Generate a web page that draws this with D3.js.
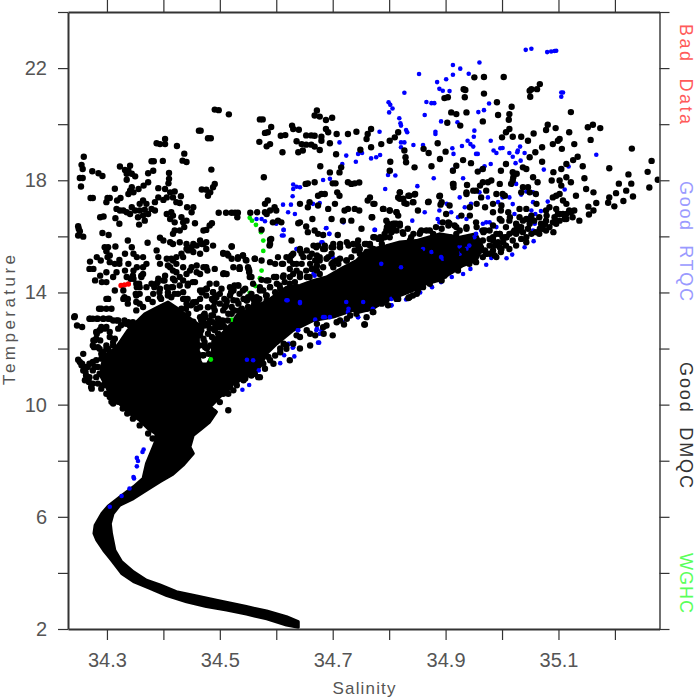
<!DOCTYPE html>
<html><head><meta charset="utf-8">
<script src="https://cdnjs.cloudflare.com/ajax/libs/d3/7.8.5/d3.min.js"></script>
<style>html,body{margin:0;padding:0;background:#fff}svg{display:block}text{font-family:"Liberation Sans",sans-serif}</style>
</head><body><div id="chart"></div>
<script>
const salinityTicks=[34.3,34.4,34.5,34.6,34.7,34.8,34.9,35.0,35.1,35.2];
const salinityTickLabels=["34.3","","34.5","","34.7","","34.9","","35.1",""];
const temperatureTicks=[2,4,6,8,10,12,14,16,18,20,22,24];
const temperatureTickLabels=["2","","6","","10","","14","","18","","22",""];
const legendLabels=["Bad  Data","Good  RTQC","Good  DMQC","WGHC"];
const legendColors=["#ff5a5a","#9a9aff","#333333","#5aff5a"];

// solid part of the cloud, where single floats can no longer be told apart
const denseCoreOutline=[[34.639,2.26],[34.618,2.44],[34.583,2.64],[34.547,2.80],[34.494,3.03],[34.459,3.18],[34.423,3.33],[34.394,3.57],[34.370,3.74],[34.347,4.04],[34.326,4.40],[34.314,4.81],[34.308,5.41],[34.306,5.76],[34.311,6.12],[34.323,6.42],[34.347,6.65],[34.370,6.95],[34.394,7.25],[34.417,7.52],[34.435,7.84],[34.453,8.26],[34.447,8.49],[34.453,8.91],[34.468,9.15],[34.482,9.38],[34.494,9.74],[34.483,9.92],[34.500,10.27],[34.524,10.75],[34.548,10.99],[34.571,11.34],[34.583,11.82],[34.601,12.17],[34.630,12.65],[34.666,13.0],[34.701,13.12],[34.736,13.36],[34.748,13.30],[34.771,13.42],[34.795,13.72],[34.819,13.89],[34.842,14.07],[34.866,14.31],[34.889,14.43],[34.907,14.66],[34.931,14.96],[34.954,15.14],[34.966,15.61],[34.954,16.09],[34.925,15.97],[34.889,16.09],[34.848,15.85],[34.819,15.8],[34.795,15.67],[34.760,15.50],[34.742,15.14],[34.719,14.90],[34.689,14.55],[34.666,14.43],[34.642,14.25],[34.618,14.19],[34.585,13.71],[34.561,13.48],[34.532,13.24],[34.520,12.88],[34.500,12.45],[34.488,12.35],[34.486,11.75],[34.478,11.45],[34.466,11.45],[34.462,11.9],[34.462,12.5],[34.470,12.75],[34.452,13.0],[34.440,13.2],[34.426,13.42],[34.408,13.66],[34.390,13.48],[34.367,13.24],[34.352,12.94],[34.337,12.65],[34.325,12.29],[34.314,11.99],[34.296,11.76],[34.290,11.34],[34.290,10.98],[34.302,10.51],[34.311,10.21],[34.325,9.98],[34.340,9.68],[34.358,9.44],[34.373,9.14],[34.386,8.97],[34.388,8.79],[34.382,8.49],[34.370,7.90],[34.364,7.37],[34.347,7.07],[34.323,6.71],[34.302,6.38],[34.291,6.12],[34.279,5.70],[34.277,5.41],[34.282,5.17],[34.294,4.81],[34.308,4.46],[34.326,3.98],[34.347,3.69],[34.376,3.45],[34.406,3.19],[34.441,2.97],[34.476,2.80],[34.512,2.68],[34.547,2.53],[34.583,2.36],[34.618,2.14],[34.639,2.06]];

const goodDmqc=[[34.491,20.52],[34.498,20.50],[34.516,20.35],[34.571,20.17],[34.576,20.17],[34.672,20.49],[34.668,20.31],[34.677,20.27],[34.688,20.15],[34.699,20.23],[34.591,19.90],[34.585,19.71],[34.580,19.69],[34.628,19.95],[34.630,19.83],[34.640,19.80],[34.616,19.61],[34.608,19.59],[34.653,19.60],[34.662,19.60],[34.668,19.59],[34.680,19.55],[34.688,19.83],[34.692,19.71],[34.707,19.65],[34.727,19.65],[34.68,19.41],[34.57,19.37],[34.583,19.21],[34.589,19.29],[34.636,19.39],[34.645,19.29],[34.653,19.27],[34.662,19.27],[34.668,19.20],[34.677,19.08],[34.639,19.0],[34.647,19.06],[34.611,19.0],[34.695,19.32],[34.706,18.93],[34.463,19.77],[34.466,19.77],[34.479,19.50],[34.484,19.50],[34.388,19.32],[34.394,19.29],[34.403,19.47],[34.403,19.29],[34.424,19.22],[34.437,18.95],[34.434,18.70],[34.441,18.65],[34.379,18.68],[34.383,18.68],[34.399,18.69],[34.259,18.84],[34.255,18.55],[34.257,18.40],[34.252,18.08],[34.257,18.08],[34.254,17.78],[34.274,18.32],[34.285,18.25],[34.292,18.15],[34.323,18.49],[34.332,18.37],[34.341,18.52],[34.338,18.34],[34.344,18.23],[34.350,18.14],[34.335,18.23],[34.335,18.02],[34.373,18.25],[34.382,18.34],[34.410,18.26],[34.410,18.05],[34.409,17.89],[34.485,18.38],[34.578,18.11],[34.491,17.87],[34.488,17.75],[34.468,17.67],[34.476,17.66],[34.483,17.57],[34.479,17.45],[34.678,18.50],[34.695,18.28],[34.712,18.28],[34.715,18.46],[34.656,17.89],[34.652,17.87],[34.668,17.93],[34.70,17.89],[34.705,17.89],[34.727,17.93],[34.708,17.57],[34.712,17.45],[34.674,17.45],[34.680,17.51],[34.686,17.51],
[34.314,17.70],[34.271,17.37],[34.275,17.37],[34.301,17.37],[34.305,17.37],[34.299,17.22],[34.318,17.28],[34.324,17.37],[34.344,17.75],[34.341,17.63],[34.338,17.51],[34.347,17.57],[34.356,17.69],[34.365,17.81],[34.373,17.93],[34.391,17.72],[34.403,17.69],[34.412,17.57],[34.420,17.60],[34.431,17.43],[34.417,17.39],[34.406,17.39],[34.400,17.30],[34.391,17.39],[34.385,17.22],[34.429,17.19],[34.423,17.22],[34.442,17.04],[34.453,17.04],[34.450,16.86],[34.364,17.28],[34.358,17.16],[34.370,17.16],[34.379,16.98],[34.385,16.92],[34.323,16.92],[34.329,16.92],[34.335,16.86],[34.341,16.80],[34.350,16.92],[34.358,16.92],[34.367,16.95],[34.373,16.80],[34.364,16.74],[34.367,16.56],[34.355,16.68],[34.357,16.42],[34.344,17.04],[34.317,16.98],[34.288,16.68],[34.294,16.71],[34.315,16.65],[34.322,16.45],[34.249,16.36],[34.250,16.27],[34.252,16.18],[34.249,16.03],[34.258,15.99],[34.292,16.12],[34.303,16.05],[34.406,16.80],[34.414,16.86],[34.417,16.74],[34.412,16.62],[34.420,16.21],[34.420,16.50],[34.432,16.68],[34.435,16.50],[34.441,16.56],[34.437,16.33],[34.429,16.21],[34.417,16.09],[34.456,16.47],[34.471,16.21],[34.476,16.23],[34.482,16.39],[34.486,16.47],[34.498,16.84],[34.511,16.84],[34.521,16.84],[34.527,16.84],[34.532,16.84],[34.531,16.68],[34.554,16.84],[34.566,16.86],[34.580,16.86],[34.589,16.92],[34.597,17.04],[34.580,17.16],[34.585,17.28],[34.600,16.92],[34.583,16.80],[34.594,16.50],[34.609,16.50],[34.603,16.56],[34.574,16.24],[34.642,17.16],[34.656,17.04],[34.659,17.22],[34.674,17.10],[34.692,16.98],[34.704,17.16],[34.721,16.92],[34.727,16.98],[34.718,16.56],[34.698,16.62],[34.642,16.50],[34.639,16.47],[34.664,16.62],[34.653,16.35],[34.668,16.21],[34.656,16.15],[34.674,16.09],[34.683,16.05],[34.709,16.05],[34.627,15.85],[34.589,15.88],[34.588,15.67],
[34.394,15.95],[34.400,15.85],[34.412,15.79],[34.417,15.73],[34.429,15.79],[34.441,15.73],[34.453,15.73],[34.465,15.85],[34.471,15.73],[34.476,15.79],[34.488,15.67],[34.337,15.85],[34.344,15.61],[34.347,15.38],[34.332,15.38],[34.372,15.77],[34.296,15.61],[34.302,15.61],[34.315,15.64],[34.299,15.47],[34.305,15.32],[34.301,15.26],[34.289,15.14],[34.270,15.10],[34.269,14.84],[34.322,15.16],[34.322,15.02],[34.332,14.78],[34.347,14.78],[34.317,14.72],[34.388,15.50],[34.391,15.26],[34.394,15.02],[34.406,15.20],[34.414,15.20],[34.423,15.02],[34.435,15.26],[34.444,15.50],[34.453,15.44],[34.465,15.38],[34.476,15.55],[34.412,14.90],[34.423,14.72],[34.435,14.90],[34.447,14.78],[34.459,14.72],[34.476,14.90],[34.491,14.84],[34.506,14.66],[34.506,15.38],[34.515,15.32],[34.521,15.64],[34.532,15.20],[34.541,15.32],[34.547,15.14],[34.535,14.84],[34.550,14.90],[34.552,14.78],[34.562,15.20],[34.574,15.14],[34.603,15.26],[34.612,15.02],[34.624,15.26],[34.630,15.02],[34.645,15.38],[34.645,15.02],[34.659,15.26],[34.671,15.61],[34.686,15.55],[34.701,15.61],[34.600,14.55],[34.524,14.07],[34.532,14.25],[34.541,14.07],[34.500,13.95],[34.518,13.89],[34.279,14.43],[34.288,14.60],[34.299,14.72],[34.291,14.37],[34.299,14.37],[34.314,14.07],[34.329,14.07],[34.329,13.77],[34.299,13.77],[34.302,13.77],[34.299,13.42],[34.286,13.42],[34.342,14.49],[34.353,14.19],[34.364,14.90],[34.361,14.55],[34.357,14.31],[34.351,13.95],[34.243,13.15],[34.247,12.82],[34.256,12.77],[34.270,13.06],[34.282,13.06],[34.294,13.06],[34.305,13.06],[34.317,13.0],[34.338,12.94],[34.288,12.65],[34.299,12.77],[34.282,12.53],[34.276,12.29],[34.288,12.29],[34.299,12.11],[34.388,14.31],[34.400,14.43],[34.417,14.49],[34.429,14.25],[34.444,14.31],[34.456,14.37],[34.465,14.07],[34.476,14.13],[34.482,14.31],[34.488,14.01],[34.435,13.77],[34.453,13.65],[34.465,13.47],[34.479,13.47],[34.491,13.36],[34.497,13.06],[34.488,12.94],[34.473,12.82],[34.459,12.77],[34.465,13.12],
[34.932,21.25],[34.935,21.22],[34.968,21.09],[34.934,20.96],[34.898,20.93],[34.904,20.96],[34.951,21.67],[34.968,21.68],[35.003,21.68],[35.067,21.43],[35.062,21.25],[35.049,21.19],[35.052,21.25],[35.050,20.98],[34.991,20.78],[35.017,20.62],[35.013,20.36],[35.012,20.16],[34.993,20.33],[35.122,20.43],[34.910,20.42],[34.919,20.36],[34.937,20.42],[34.966,20.10],[34.903,20.05],[34.926,19.95],[34.742,19.73],[34.768,19.83],[34.762,19.65],[34.760,19.47],[34.816,19.71],[34.810,19.53],[34.801,19.41],[34.786,19.29],[34.768,19.18],[34.749,19.09],[34.827,19.06],[34.829,18.82],[34.830,18.64],[34.845,18.46],[34.802,18.66],[34.801,18.34],[34.875,18.50],[34.890,18.76],[34.900,19.02],[34.861,19.12],[34.870,18.97],[34.886,19.32],[34.931,18.72],[34.945,18.61],[34.919,18.52],[34.913,18.34],[34.957,18.31],[34.966,18.40],[35.013,19.83],[35.007,19.71],[35.000,19.53],[35.019,19.55],[35.034,19.55],[35.046,19.41],[35.056,19.67],[35.081,19.98],[35.095,19.86],[35.078,19.79],[35.119,19.71],[35.152,19.89],[35.161,19.98],[35.174,19.86],[35.157,19.44],[35.230,19.13],[35.102,19.47],[35.099,19.41],[35.090,19.29],[35.106,19.12],[35.128,19.29],[35.071,19.18],[35.059,19.0],[35.049,18.82],[35.071,18.66],[35.037,18.46],[35.019,18.29],[35.007,18.58],[34.998,18.34],[35.134,18.84],[35.126,18.72],[35.114,18.58],[35.105,18.40],[35.091,18.29],[35.143,18.50],[35.146,18.07],[35.149,17.69],[35.162,17.57],[35.167,17.19],[35.153,17.06],[35.162,16.92],[35.154,16.78],[35.137,16.56],[35.190,18.43],[35.224,18.21],[35.207,17.88],[35.229,17.88],[35.220,17.63],[35.202,17.54],[35.232,17.42],[35.215,17.26],[35.190,17.39],[35.188,17.20],[35.199,17.07],[35.265,18.69],[35.258,18.30],[35.261,17.74],[35.276,18.02],[35.043,18.40],[35.063,17.93],[35.019,17.99],[35.037,17.75],[35.102,17.99],[35.122,17.93],[35.131,17.45],[35.102,17.51],[35.090,17.39],[35.108,17.28],[35.114,17.16],[35.084,17.04],[35.096,16.98],[34.913,17.87],[34.938,17.83],[34.954,17.63],[34.966,17.93],[34.981,17.99],[34.996,17.87],[34.937,17.51],[34.963,17.39],[34.984,17.16],[35.001,17.51],[35.016,17.87],[35.034,17.57],[35.060,17.51],[35.031,16.98],[34.998,16.92],[34.819,17.57],[34.819,17.34],[34.836,17.45],[34.845,17.49],[34.827,17.19],[34.842,17.22],[34.870,17.24],[34.889,17.43],[34.851,16.92],[34.891,17.13],[34.907,17.10],[34.789,16.98],[34.801,16.92],[34.813,16.86],[34.774,17.16],[34.762,17.28],[34.739,16.98],[34.747,16.92],[34.770,16.68],[34.733,16.56],[34.751,16.27],[34.795,16.56],[34.739,17.89],[34.747,17.92],[34.733,17.87],
[34.242,13.12],[34.258,11.81],[34.249,11.60],[34.256,11.46],[34.258,11.22],[34.263,11.04],[34.261,10.87],[34.268,10.81],[34.272,10.63],[34.281,10.98],[34.302,10.39],[34.311,10.04],[34.328,10.04],[34.340,9.80],[34.308,10.69],[34.293,10.69],[34.266,11.34],[34.275,11.52],[34.284,11.34],[34.275,12.11],[34.281,12.35],[34.287,12.65],[34.296,12.71],[34.305,12.41],[34.311,12.23],[34.299,11.99],[34.284,12.05],[34.290,11.81],[34.305,11.87],[34.269,13.06],[34.284,13.06],[34.302,13.06],[34.320,13.0],[34.346,12.94],[34.334,12.88],[34.302,13.77],[34.290,13.42],[34.308,13.42],[34.331,13.83],[34.337,13.60],[34.352,13.66],[34.358,13.95],[34.352,14.31],[34.346,14.60],[34.361,14.60],[34.358,14.19],[34.396,13.77],[34.414,13.83],[34.438,13.77],[34.452,13.60],[34.440,13.42],[34.467,13.0],[34.479,12.88],[34.467,12.65],[34.464,12.11],[34.473,12.11],[34.461,11.82],[34.458,11.46],[34.470,11.76],[34.491,12.65],[34.494,12.88],[34.505,13.0],[34.485,13.18],[34.473,13.18],[34.515,9.80],
[34.571,10.98],[34.554,11.22],[34.595,11.46],[34.624,11.58],[34.642,12.0],[34.660,12.11],[34.700,12.47],[34.684,12.53],[34.669,12.47],[34.720,12.86],[34.756,12.86],[34.772,13.30],[34.613,12.17],[34.571,11.52],[34.554,11.40],[34.533,10.99],[34.524,10.51],[34.512,10.51],[34.500,10.09],[34.489,9.74],[34.477,9.56],
[35.122,16.86],[35.125,16.68],[35.114,16.62],[35.102,16.56],[35.093,16.68],[35.096,16.45],[35.084,16.33],[35.072,16.27],[35.060,16.15],[35.052,16.09],[35.043,15.97],[35.037,16.15],[35.031,16.33],[35.025,16.09],[35.019,15.85],[35.007,15.67],[34.996,15.61],[34.984,15.50],[34.972,15.38],[34.963,15.50],[34.948,15.26],[34.937,15.20],[34.925,15.08],[34.913,14.84],[34.901,14.72],[34.889,14.66],[34.878,14.55],[34.836,13.83],[34.816,13.77],[34.789,13.66],[34.771,13.30],[34.757,12.86],[34.996,16.62],[35.013,16.56],[35.007,16.33],[34.990,16.09],[34.978,16.21],[34.966,16.21],[34.954,16.50],[34.937,16.33],[34.919,16.33],[34.907,16.45],[34.895,16.50],[34.883,16.33],[34.872,16.21],[34.854,16.09],[34.839,15.97],[34.833,16.27],[34.819,16.45],[34.810,16.45],[34.798,16.45],[34.795,16.21],[34.807,16.21],[34.824,16.15],[34.786,15.91],[34.774,15.97],[34.760,15.73],[34.745,15.85],[34.745,15.67],[35.031,16.68],[35.043,16.62],[35.052,16.74],[35.066,16.68],[35.078,16.92],[35.108,16.80],[35.119,16.92],[35.128,16.92],[34.901,16.80],[34.857,16.21],[34.907,15.85],[34.919,16.09],[34.901,15.50],[34.919,15.38],[34.931,15.50],[34.966,15.85],[34.984,15.97],[34.996,16.09],[35.007,15.97],[35.025,16.45]];

// second reading of the merged chains around the core
const goodDmqcChains=[[34.252,11.52],[34.261,11.34],[34.255,11.40],[34.262,11.16],[34.269,10.98],[34.275,10.75],[34.273,10.57],[34.284,10.75],[34.290,10.57],[34.299,10.39],[34.305,10.27],[34.308,10.10],[34.320,10.10],[34.328,9.86],[34.336,9.68],[34.346,9.50],[34.358,9.26],[34.373,8.97],[34.381,8.79],[34.269,11.46],[34.278,11.34],[34.287,11.10],[34.275,11.22],[34.281,11.58],[34.290,11.64],[34.278,12.29],[34.277,12.05],[34.287,11.99],[34.293,11.87],[34.302,11.99],[34.311,12.11],[34.314,12.35],[34.305,12.59],[34.290,12.77],[34.281,12.59],[34.320,12.71],[34.325,12.83],[34.340,12.83],[34.331,13.0],[34.311,13.0],[34.275,13.06],[34.293,13.06],[34.337,13.77],[34.352,13.89],[34.358,13.60],[34.352,13.36],[34.364,13.48],[34.373,13.77],[34.381,13.66],[34.384,14.19],[34.390,14.37],[34.402,14.43],[34.420,14.43],[34.414,14.19],[34.435,14.43],[34.393,14.01],[34.408,14.01],[34.426,13.95],[34.435,14.01],[34.443,13.77],[34.458,13.66],[34.449,13.54],[34.452,14.37],[34.443,14.25],[34.470,14.07],[34.488,14.01],[34.494,13.83],[34.508,13.77],[34.511,13.54],[34.491,13.66],[34.488,13.18],[34.473,13.24],[34.467,12.83],[34.482,12.71],[34.464,12.47],[34.473,12.23],[34.491,12.23],[34.497,12.53],[34.508,12.77],[34.514,13.0],[34.526,13.36],[34.520,14.01],[34.526,14.25],[34.550,13.83],[34.561,13.60],[34.582,13.89],[34.570,13.77],[34.464,11.46],[34.476,11.34],[34.467,11.22],[34.494,11.82],[34.499,12.05],
[34.524,13.36],[34.533,13.60],[34.539,13.42],[34.548,13.71],[34.559,13.77],[34.568,13.71],[34.583,13.89],[34.598,14.01],[34.607,14.13],[34.592,13.71],[34.615,14.37],[34.624,14.55],[34.633,14.37],[34.642,14.67],[34.654,14.55],[34.663,14.84],[34.672,14.96],[34.677,15.14],[34.689,15.20],[34.701,15.08],[34.713,15.20],[34.698,15.38],[34.683,15.55],[34.698,15.61],[34.713,15.61],[34.728,15.67],[34.739,15.50],[34.748,15.38],[34.766,15.67],[34.781,15.91],[34.792,16.09],[34.807,16.33],[34.813,16.45],[34.760,15.44],[34.772,15.55],[34.787,15.73],[34.642,15.50],[34.627,15.32],[34.618,15.26],[34.672,15.32],[34.663,15.38],[34.648,15.26],[34.636,15.02],[34.624,14.84],[34.610,15.02],[34.598,15.02],[34.589,15.08],[34.596,14.55],[34.574,14.45],[34.559,14.31],[34.556,14.55],[34.545,14.13],[34.533,14.25],[34.524,14.13],[34.518,14.19],[34.551,14.84],[34.552,14.72],[34.535,14.84],[34.507,14.69],[34.478,14.78],[34.541,15.32],[34.532,15.26],[34.521,15.20],[34.513,15.38],[34.506,15.41],[34.521,15.64],[34.589,15.73],[34.591,15.91],[34.562,15.20],[34.546,15.16],[34.477,14.13],[34.468,14.0],[34.492,13.89],[34.486,13.77],[34.512,13.71],[34.509,13.48],[34.489,13.48],[34.474,13.12],[34.471,12.94],[34.480,12.88],[34.492,12.76],[34.500,12.76],[34.506,12.82],[34.474,12.05],[34.477,12.0],[34.471,11.76],[34.731,13.18],[34.713,13.0],[34.683,12.76],[34.660,12.53],[34.642,12.41],[34.630,12.17],[34.618,11.99],[34.607,11.87],[34.598,11.75],[34.586,11.70],[34.577,11.46],[34.562,11.10],[34.545,10.93],[34.530,10.69],[34.515,10.39],[34.760,13.12],[34.787,13.60],[34.798,13.54],[34.813,13.77],
[34.807,16.45],[34.819,16.39],[34.796,16.33],[34.804,16.15],[34.801,15.97],[34.825,16.09],[34.843,16.09],[34.855,16.15],[34.866,16.21],[34.878,16.09],[34.893,16.27],[34.905,16.39],[34.916,16.39],[34.925,16.21],[34.937,16.27],[34.955,16.33],[34.970,16.21],[34.984,16.39],[34.999,16.56],[35.014,16.68],[35.026,16.39],[35.037,16.56],[35.052,16.62],[34.837,15.85],[34.855,15.79],[34.872,15.79],[34.890,15.97],[34.908,15.97],[34.925,15.79],[34.943,15.91],[34.967,16.15],[34.978,15.91],[34.996,16.09],[35.008,15.97],[35.020,16.15],[35.032,16.21],[35.046,16.27],[34.855,15.44],[34.884,15.50],[34.908,15.55],[34.931,15.50],[34.949,15.44],[34.961,15.67],[34.970,15.50],[34.987,15.67],[35.002,15.79],[34.943,15.20],[34.925,15.02],[34.908,14.96],[34.896,14.84],[34.884,14.72],[34.866,14.55],[34.843,14.43],[34.825,14.25],[34.816,13.95],[34.834,13.80],[34.849,13.95],[34.893,14.43],[34.922,14.78],[34.952,15.14],[34.972,15.38],[34.987,15.32],[34.999,15.55],[34.855,14.78],[34.878,15.14],[34.902,15.20],[34.831,14.78],
[34.819,17.57],[34.825,17.34],[34.834,17.45],[34.846,17.51],[34.831,17.16],[34.843,17.22],[34.816,17.39],[34.869,17.22],[34.890,17.45],[34.893,17.22],[34.914,17.87],[34.914,17.75],[34.937,17.57],[34.949,17.63],[34.961,17.81],[34.975,17.93],[34.972,17.63],[34.990,17.51],[35.005,17.45],[35.020,18.11],[35.026,18.23],[35.046,17.75],[35.055,18.11],[35.049,17.57],[35.088,17.99],[35.096,17.45],[35.105,17.81],[35.114,18.11],[34.790,16.98],[34.801,16.92],[34.813,16.86],[34.772,17.16],[34.766,17.39],[34.816,16.74],[34.769,16.68],[34.943,17.04],[34.955,17.16],[34.970,17.04],[34.984,16.86],[34.999,17.10],[35.011,16.86],[34.943,16.74],[34.928,16.74],[34.905,16.50],[35.043,16.98],[35.061,17.16],[35.079,16.74],[35.099,16.80],[35.111,16.62],[35.091,16.15],[35.067,16.27],[35.096,16.56],[35.076,16.44],
[34.423,15.26],[34.432,15.38],[34.441,15.55],[34.450,15.61],[34.459,15.67],[34.468,15.73],[34.417,15.14],[34.408,14.96],[34.417,14.78],[34.403,14.60],[34.391,14.49],[34.441,14.66],[34.429,14.55],[34.406,14.19],[34.417,14.19],[34.394,14.13],[34.379,14.31],[34.370,14.19],[34.382,13.95],[34.394,13.83],[34.408,13.89],[34.420,13.95],[34.465,14.66],[34.471,14.90],[34.459,14.96],[34.450,14.90],[34.465,13.77],[34.476,13.89],[34.488,13.72],[34.500,13.60],[34.512,13.66],[34.524,13.72],[34.535,13.95],[34.547,13.72],[34.506,13.36],[34.521,13.24],[34.535,13.36],[34.550,13.48],[34.565,13.60],[34.500,13.0],[34.512,12.71],[34.529,13.0],[34.544,13.12],[34.441,13.60],[34.432,13.42],[34.444,13.24],[34.459,13.42],[34.471,13.18],[34.482,13.0],[34.453,12.96],[34.441,12.65],[34.465,12.53],[34.479,12.53],[34.535,14.90],[34.553,14.55],[34.524,14.90],[34.512,14.66],[34.494,14.31],[34.503,14.13],[34.583,14.43],[34.571,14.07],[34.589,14.19],[34.606,14.25],[34.612,14.55],[34.630,14.66],[34.642,14.55],[34.648,14.19],[34.659,14.55],[34.636,14.78],[34.653,14.78],[34.671,14.90],[34.677,15.26],[34.692,15.26],[34.707,15.14],[34.724,15.14],[34.701,14.90],[34.718,14.78],[34.677,14.66],[34.583,13.72],[34.565,13.83],[34.559,13.48],[34.583,13.42],[34.600,13.83],[34.618,14.01],[34.636,14.19],[34.653,14.19],[34.305,15.08],[34.314,15.02],[34.276,14.84],[34.282,15.26],[34.311,14.55],[34.335,14.55],[34.338,15.02],[34.353,14.90],[34.347,14.49],[34.364,14.66],[34.370,15.02],[34.353,15.26],[34.364,15.26]];

// third reading along the upper and lower edges of the band
const goodDmqcBandEdge=[[34.624,15.14],[34.630,15.38],[34.642,15.55],[34.654,15.50],[34.666,15.67],[34.674,15.67],[34.686,15.67],[34.701,15.73],[34.713,15.73],[34.725,15.79],[34.736,15.73],[34.669,15.14],[34.660,15.02],[34.672,14.78],[34.683,14.90],[34.698,15.02],[34.710,15.02],[34.725,15.14],[34.733,15.26],[34.748,15.55],[34.757,15.73],[34.766,15.73],[34.784,15.97],[34.792,15.97],[34.801,16.21],[34.813,16.21],[34.772,15.97],[34.778,15.50],[34.577,14.07],[34.589,14.19],[34.601,14.31],[34.586,14.43],[34.613,14.61],[34.624,14.31],[34.571,14.19],[34.556,13.95],[34.542,13.77],[34.530,13.71],[34.521,13.48],[34.515,13.24],[34.500,12.88],[34.492,12.76],[34.486,12.41],[34.483,12.11],[34.471,12.35],[34.480,11.81],[34.506,10.39],[34.518,10.63],[34.530,10.87],[34.542,10.87],[34.556,11.04],[34.568,10.98],[34.580,11.28],[34.589,11.58],[34.607,12.0],[34.618,12.11],[34.636,12.47],[34.654,12.65],[34.672,12.88],[34.689,12.82],[34.707,12.94],[34.725,13.06],[34.742,13.24],[34.760,13.42],[34.778,13.60],[34.795,13.72],[34.810,13.89],[34.984,15.85],[34.978,15.67],[34.993,15.79],[35.001,15.97],[35.013,16.09],[35.022,16.21],[35.034,16.33],[35.049,16.45],[35.057,16.56],[35.069,16.45],[35.078,16.56],[35.090,16.50],[35.102,16.80],[35.114,16.80],[35.066,16.09],[35.078,16.21],[35.034,15.91],[35.043,15.79],[35.025,15.67],[35.013,15.55],[34.998,15.44],[34.990,15.26],[34.978,15.38],[34.966,15.26],[34.954,15.08],[34.942,15.02],[34.934,15.08],[34.922,14.90],[34.910,14.78],[34.898,14.60],[34.886,14.49],[34.872,14.31],[34.860,14.19],[34.851,14.07],[34.842,13.89]];

const goodRtqc=[[34.712,19.35],[34.724,18.88],[34.717,18.58],[34.683,18.01],[34.695,18.05],[34.630,17.85],[34.630,17.69],[34.636,17.77],[34.642,17.75],[34.629,17.43],[34.612,17.13],[34.626,17.13],[34.621,16.86],[34.633,16.80],[34.665,17.16],[34.677,17.19],[34.574,16.62],[34.580,16.54],[34.565,16.62],[34.600,16.45],[34.613,16.23],[34.610,16.03],[34.688,16.29],[34.694,16.09],[34.680,15.79],[34.727,15.67],[34.700,15.26],[34.712,15.23],[34.636,15.55],[34.668,14.60],[34.618,13.72],[34.642,13.62],[34.683,13.12],[34.695,13.12],[34.718,12.94],[34.727,13.30],[34.724,13.66],[34.671,12.65],[34.677,12.53],[34.686,12.77],[34.638,12.65],[34.674,12.21],[34.621,12.17],[34.630,12.05],
[34.540,10.53],[34.552,10.70],[34.569,11.22],[34.548,11.60],[34.559,11.58],[34.607,11.48],[34.614,11.76],[34.632,11.72],[34.629,12.03],[34.623,12.17],[34.676,12.21],[34.672,12.71],[34.680,12.65],[34.686,13.12],[34.669,13.03],[34.639,12.65],[34.745,13.12],[34.728,13.42],[34.754,13.66],[34.804,13.54],[34.804,13.77],[34.620,13.72],[34.642,13.66],[34.666,14.67],[34.613,16.03],[34.613,16.23],[34.689,16.30],[34.694,16.09],[34.775,16.23],[34.682,15.79],[34.636,15.55],[34.719,16.5],
[35.042,22.65],[35.052,22.69],[35.080,22.57],[35.087,22.59],[35.093,22.61],[35.096,22.62],[34.913,22.11],[34.926,21.98],[34.960,22.20],[34.853,21.79],[34.941,21.80],[34.913,21.76],[34.901,21.60],[34.885,21.50],[34.889,21.26],[34.895,21.19],[34.907,21.18],[34.827,21.12],[35.105,21.13],[35.105,20.98],[35.108,21.13],[34.799,20.78],[34.802,20.69],[34.806,20.56],[34.800,20.42],[34.866,20.79],[34.875,20.75],[34.880,20.75],[34.863,20.33],[34.977,20.74],[34.968,20.50],[34.958,20.43],[34.892,20.10],[34.921,20.07],[34.818,20.21],[34.820,20.03],[34.821,19.95],[34.830,19.79],[34.832,19.71],[34.783,19.73],[34.882,19.73],[34.882,19.65],[34.951,19.77],[34.950,19.55],[34.939,19.41],[34.944,19.29],[34.949,19.20],[34.929,19.22],[34.912,19.14],[34.914,18.94],[34.980,19.41],[34.821,19.35],[34.827,19.35],[34.821,19.18],[34.843,19.26],[34.860,19.26],[34.985,19.06],[34.990,18.97],[34.997,19.14],[35.001,19.15],[35.013,18.97],[35.019,18.84],[35.028,19.06],[35.032,19.20],[35.027,19.0],[35.040,18.97],[35.033,18.70],[35.024,18.61],[35.167,18.91],[35.074,18.38],[35.118,18.49],[35.111,17.67],[35.081,17.24],[34.741,18.66],[34.745,18.94],[34.752,18.97],[34.768,18.78],[34.777,18.82],[34.784,18.90],[34.803,18.34],[34.798,18.19],[34.811,18.17],[34.793,17.69],[34.850,17.79],[34.879,18.07],[34.912,18.37],[34.931,18.07],[34.937,17.85],[34.954,18.94],[34.957,18.94],[34.969,18.50],[34.980,18.58],[34.963,18.37],[35.025,17.87],[35.034,17.49],[35.043,17.60],[35.055,17.57],[35.055,17.22],[35.052,16.92],[35.069,16.90],[35.059,16.80],[35.013,17.39],[35.019,17.15],[35.001,17.39],[34.993,17.22],[34.975,17.39],[34.960,17.57],[34.945,17.16],[34.934,17.04],[34.910,16.86],[34.925,17.39],[34.902,17.16],[34.889,16.92],[34.863,16.86],[34.841,16.56],[34.774,16.23],[35.056,15.83],[35.040,15.61],[35.018,15.35],[35.008,15.22],[34.981,15.23],[34.972,14.99],[34.944,14.84],[34.931,14.66],[34.911,14.55],[34.892,14.37],[34.876,14.19],[34.855,14.0],[34.830,13.75],[34.804,13.54],[34.745,13.12],[34.771,13.42],[34.875,15.44],[34.925,15.64],[34.954,16.09],[34.978,16.50],[34.990,16.33],[34.966,16.45],[34.942,15.91],[34.892,15.26],[34.860,15.55],[34.821,14.90],[34.786,15.02],[34.889,16.50],[34.886,16.62],[34.937,16.62],[34.922,16.68],[34.972,16.50],[35.022,16.80],[35.049,16.68],[35.058,16.45],[35.055,16.21],[34.951,15.97],[34.963,16.21],[34.937,15.56],[34.925,15.38],[34.895,15.20],[34.942,15.67],
[34.365,8.40],[34.363,8.31],[34.353,8.10],[34.355,7.99],[34.353,7.80],[34.347,7.42],[34.348,7.37],[34.340,7.01],[34.326,6.74],[34.305,6.36]];

const wghc=[[34.553,16.66],[34.557,16.56],[34.564,16.41],[34.573,16.15],[34.577,15.85],[34.577,15.48],[34.574,15.12],[34.574,14.78],[34.571,14.51],[34.563,14.23],[34.553,13.98],[34.542,13.75],[34.521,13.03],[34.484,11.61]];
const badData=[[34.325,14.25],[34.331,14.27],[34.338,14.30]];

const width=700,height=700,plotLeft=68,plotRight=659.5,plotTop=12,plotBottom=629;
const x=d3.scaleLinear().domain([34.231,35.279]).range([plotLeft,plotRight]);
const y=d3.scaleLinear().domain([2,24]).range([plotBottom,plotTop]);
const svg=d3.select("#chart").append("svg").attr("width",width).attr("height",height);

svg.append("clipPath").attr("id","plot").append("rect").attr("x",plotLeft).attr("y",plotTop).attr("width",plotRight-plotLeft).attr("height",plotBottom-plotTop);
const plot=svg.append("g").attr("clip-path","url(#plot)");
const core=d3.line().x(d=>x(d[0])).y(d=>y(d[1]));
plot.append("path").attr("d",core(denseCoreOutline)+"Z").attr("fill","#000").attr("stroke","#000").attr("stroke-width",3).attr("stroke-linejoin","round");
function dots(data,color,r){plot.append("g").selectAll("circle").data(data).join("circle").attr("cx",d=>x(d[0])).attr("cy",d=>y(d[1])).attr("r",r).attr("fill",color);}
dots(wghc,"#00e600",2.4);
dots(badData,"#ff0000",2.7);
dots(goodRtqc,"#0000ff",2.3);
dots(goodDmqc,"#000000",3.2);
dots(goodDmqcChains,"#000000",3.2);
dots(goodDmqcBandEdge,"#000000",3.2);

const axisColor="#333";
function style(g,w){g.select(".domain").attr("stroke",axisColor).attr("stroke-width",w);g.selectAll(".tick line").attr("stroke",axisColor).attr("stroke-width",1.2);}
const gBottom=svg.append("g").attr("transform",`translate(0,${plotBottom})`).call(d3.axisBottom(x).tickValues(salinityTicks).tickSize(11).tickSizeOuter(0).tickFormat((d,i)=>salinityTickLabels[i]));
style(gBottom,2);
gBottom.selectAll("text").attr("y",20).attr("dy","0.9em").attr("font-size",20).attr("fill","#555");
const gTop=svg.append("g").attr("transform",`translate(0,${plotTop})`).call(d3.axisTop(x).tickValues(salinityTicks).tickSize(12).tickSizeOuter(0).tickFormat(""));
style(gTop,2);
const gLeft=svg.append("g").attr("transform",`translate(${plotLeft},0)`).call(d3.axisLeft(y).tickValues(temperatureTicks).tickSize(10).tickSizeOuter(0).tickFormat((d,i)=>temperatureTickLabels[i]));
style(gLeft,2);
gLeft.selectAll("text").attr("x",-21).attr("font-size",20).attr("fill","#555");
const gRight=svg.append("g").attr("transform",`translate(${plotRight},0)`).call(d3.axisRight(y).tickValues(temperatureTicks).tickSize(10).tickSizeOuter(0).tickFormat(""));
style(gRight,1.4);
svg.selectAll("text").attr("font-family","'Liberation Sans',sans-serif");

svg.append("text").attr("x",364).attr("y",694).attr("text-anchor","middle").attr("font-size",17).attr("fill","#555").attr("textLength",63).text("Salinity");
svg.append("text").attr("transform","translate(15,320) rotate(-90)").attr("text-anchor","middle").attr("font-size",17).attr("fill","#555").attr("textLength",130).text("Temperature");

const legendY=[24,181,362,553],legendLen=[100,120,126,60];
legendLabels.forEach((t,i)=>{
  svg.append("text").attr("transform",`translate(680,${legendY[i]}) rotate(90)`).attr("font-size",18).attr("fill",legendColors[i]).attr("textLength",legendLen[i]).style("white-space","pre").text(t);
});
</script></body></html>
